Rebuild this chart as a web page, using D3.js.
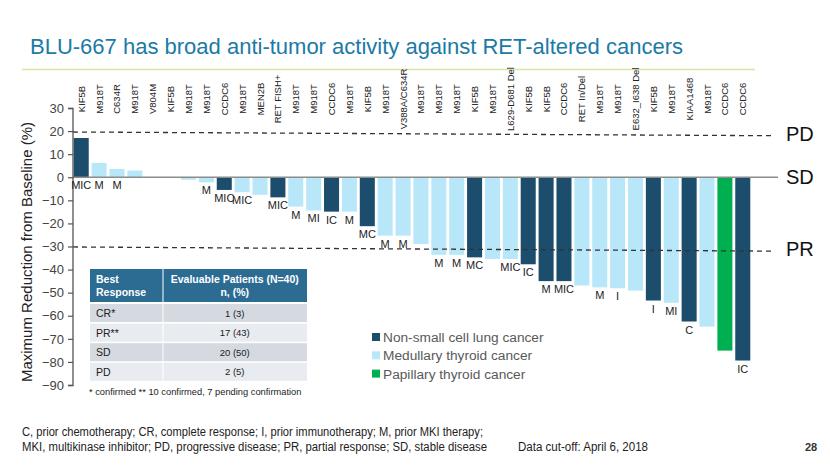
<!DOCTYPE html>
<html><head><meta charset="utf-8">
<script src="https://cdn.jsdelivr.net/npm/d3@7"></script>
<style>
html,body{margin:0;padding:0;background:#fff;}
svg{display:block;font-family:"Liberation Sans",Arial,sans-serif;}
</style></head>
<body>
<svg id="chart" width="830" height="467"></svg>
<script>
// ---------- DATA ----------
const mutations = ["KIF5B","M918T","C634R","M918T","V804M","KIF5B","M918T","M918T","CCDC6","M918T",
  "MEN2B","RET FISH+","M918T","M918T","CCDC6","M918T","KIF5B","M918T","V388A/C634R","M918T",
  "M918T","M918T","KIF5B","M918T","L629-D681 Del","KIF5B","KIF5B","CCDC6","RET In/Del","M918T",
  "M918T","E632_I638 Del","KIF5B","M918T","KIAA1468","M918T","CCDC6","CCDC6"];
const maxReduction = [17, 6.2, 3.6, 2.9, 0, 0, -1.1, -2.2, -5.5, -6.5,
  -7.6, -8.7, -12.7, -14.4, -14.9, -14.9, -21.2, -25.3, -25.3, -28.9,
  -33.6, -33.6, -34.7, -35.4, -35.4, -37.7, -45, -45, -46.9, -47.7,
  -48.1, -49.1, -53.4, -54.4, -62.5, -64.7, -75.1, -79.4];
const cancerType = ["NSCLC","MTC","MTC","MTC","MTC","NSCLC","MTC","MTC","NSCLC","MTC",
  "MTC","NSCLC","MTC","MTC","NSCLC","MTC","NSCLC","MTC","MTC","MTC",
  "MTC","MTC","NSCLC","MTC","MTC","NSCLC","NSCLC","NSCLC","MTC","MTC",
  "MTC","MTC","NSCLC","MTC","NSCLC","MTC","PTC","NSCLC"];
const priorTherapy = ["MIC","M","M","","","","","M","MIC","MIC",
  "","MIC","M","MI","IC","M","MC","M","M","",
  "M","M","MC","","MIC","IC","M","MIC","","M",
  "I","","I","MI","C","","","IC"];
const yTicks = [30,20,10,0,-10,-20,-30,-40,-50,-60,-70,-80,-90];
const responseLines = [
  {label:"PD", from:19.6, to:18.0, dashed:true},
  {label:"SD", from:0, to:0, dashed:false},
  {label:"PR", from:-30.2, to:-32.0, dashed:true}
];
const legendKeys = ["NSCLC","MTC","PTC"];
const legendLabels = ["Non-small cell lung cancer","Medullary thyroid cancer","Papillary thyroid cancer"];
const tableHeader = [["Best","Response"],["Evaluable Patients (N=40)","n, (%)"]];
const tableResponse = ["CR*","PR**","SD","PD"];
const tablePatients = ["1 (3)","17 (43)","20 (50)","2 (5)"];

// ---------- STYLE ----------
const colors = {NSCLC:"#1c4d6d", MTC:"#b8e7fa", PTC:"#00b050"};
const svg = d3.select("#chart");

// title
svg.append("text").attr("x",30).attr("y",54)
  .attr("font-size",22).attr("fill","#1c7aa6")
  .text("BLU-667 has broad anti-tumor activity against RET-altered cancers");
svg.append("line").attr("x1",22).attr("x2",755).attr("y1",69.5).attr("y2",69.5)
  .attr("stroke","#d5e9a3").attr("stroke-width",1.5);

// scales
const x = d3.scaleBand().domain(d3.range(mutations.length)).range([73,751])
  .paddingInner(0.16).paddingOuter(0.04);
const y = d3.scaleLinear().domain([-90,30]).range([385,108]);

// bars
svg.append("g").selectAll("rect").data(maxReduction).join("rect")
  .attr("x",(d,i)=>x(i)).attr("width",x.bandwidth())
  .attr("y",d=>y(Math.max(0,d))).attr("height",d=>Math.abs(y(d)-y(0)))
  .attr("fill",(d,i)=>colors[cancerType[i]]);

// response lines
const xl0 = 73;
responseLines.forEach(r=>{
  const xEnd = r.dashed ? 772 : 778;
  svg.append("line").attr("x1",xl0).attr("x2",xEnd)
    .attr("y1",y(r.from)).attr("y2",y(r.to))
    .attr("stroke", r.dashed ? "#333" : "#8c8c8c")
    .attr("stroke-width", r.dashed ? 1.3 : 1.4)
    .attr("stroke-dasharray", r.dashed ? "5,4" : null);
  svg.append("text").attr("x",786).attr("y",y((r.from+r.to)/2)+7)
    .attr("font-size",20).attr("fill","#111").text(r.label);
});

// y axis
const yAxis = d3.axisLeft(y).tickValues(yTicks).tickSize(5).tickPadding(4).tickFormat(d3.format("d"));
const ga = svg.append("g").attr("transform","translate(73,0)").call(yAxis);
ga.select(".domain").attr("stroke","#555").attr("stroke-width",1.3).attr("d","M-5,108.5H0V385.5H-5");
ga.selectAll(".tick line").attr("stroke","#555").attr("stroke-width",1.2);
ga.selectAll(".tick text").attr("font-size",13).attr("fill","#444")
  .attr("font-family","Liberation Sans, Arial, sans-serif");
svg.append("text").attr("transform","translate(32,252) rotate(-90)")
  .attr("text-anchor","middle").attr("font-size",15).attr("fill","#222")
  .text("Maximum Reduction from Baseline (%)");

// mutation labels (top, rotated)
svg.append("g").selectAll("text").data(mutations).join("text")
  .attr("transform",(d,i)=>`translate(${x(i)+x.bandwidth()/2+3.5},99) rotate(-90)`)
  .attr("text-anchor","middle").attr("font-size",9.5)
  .attr("font-family","Liberation Sans Narrow, Arial Narrow, sans-serif")
  .attr("fill","#222").text(d=>d);

// prior therapy labels
svg.append("g").selectAll("text").data(priorTherapy).join("text")
  .attr("x",(d,i)=>x(i)+x.bandwidth()/2)
  .attr("y",(d,i)=>y(Math.min(0,maxReduction[i]))+12)
  .attr("text-anchor","middle").attr("font-size",11).attr("fill","#222")
  .text(d=>d);

// table
const tx0=90, tx1=162.5, tx2=307;
const tg = svg.append("g");
tg.append("rect").attr("x",tx0).attr("y",269).attr("width",tx1-tx0).attr("height",33).attr("fill","#2c6c93");
tg.append("rect").attr("x",tx1+1).attr("y",269).attr("width",tx2-tx1-1).attr("height",33).attr("fill","#2c6c93");
tableHeader[0].forEach((t,k)=>tg.append("text").attr("x",96).attr("y",283+k*12.5)
  .attr("font-size",10.5).attr("font-weight","bold").attr("fill","#fff").text(t));
tableHeader[1].forEach((t,k)=>tg.append("text").attr("x",(tx1+tx2)/2).attr("y",283+k*12.5)
  .attr("text-anchor","middle").attr("font-size",10.5).attr("font-weight","bold").attr("fill","#fff").text(t));
tableResponse.forEach((t,k)=>{
  const ry = 304 + k*19.6;
  const fill = k%2===0 ? "#d5dae0" : "#e8ebef";
  tg.append("rect").attr("x",tx0).attr("y",ry).attr("width",tx1-tx0).attr("height",18).attr("fill",fill);
  tg.append("rect").attr("x",tx1+1).attr("y",ry).attr("width",tx2-tx1-1).attr("height",18).attr("fill",fill);
  tg.append("text").attr("x",96).attr("y",ry+13).attr("font-size",10.5).attr("fill","#222").text(t);
  tg.append("text").attr("x",(tx1+tx2)/2).attr("y",ry+12.5).attr("text-anchor","middle")
    .attr("font-size",9.5).attr("fill","#222").text(tablePatients[k]);
});
svg.append("text").attr("x",89).attr("y",395).attr("font-size",9.3).attr("fill","#222")
  .text("* confirmed  ** 10 confirmed,  7 pending confirmation");

// legend
const lg = svg.append("g");
legendKeys.forEach((k,i)=>{
  const cy = 337 + i*18.3;
  lg.append("rect").attr("x",372).attr("y",cy-4).attr("width",8).attr("height",8).attr("fill",colors[k]);
  lg.append("text").attr("x",383).attr("y",cy+5).attr("font-size",13.7).attr("fill","#595959").text(legendLabels[i]);
});

// footnotes
const fn = svg.append("g").attr("font-family","Liberation Sans Narrow, Arial Narrow, sans-serif").attr("fill","#222");
fn.append("text").attr("x",22).attr("y",436).attr("font-size",12).attr("textLength",461).attr("lengthAdjust","spacingAndGlyphs")
  .text("C, prior chemotherapy; CR, complete response; I, prior immunotherapy; M, prior MKI therapy;");
fn.append("text").attr("x",22).attr("y",451).attr("font-size",12).attr("textLength",465).attr("lengthAdjust","spacingAndGlyphs")
  .text("MKI, multikinase inhibitor; PD, progressive disease; PR, partial response;  SD, stable disease");
fn.append("text").attr("x",518).attr("y",451).attr("font-size",12).attr("textLength",130).attr("lengthAdjust","spacingAndGlyphs")
  .text("Data cut-off: April 6, 2018");
svg.append("text").attr("x",805).attr("y",451).attr("font-size",11).attr("font-weight","bold").attr("fill","#333").text("28");
</script>
</body></html>
